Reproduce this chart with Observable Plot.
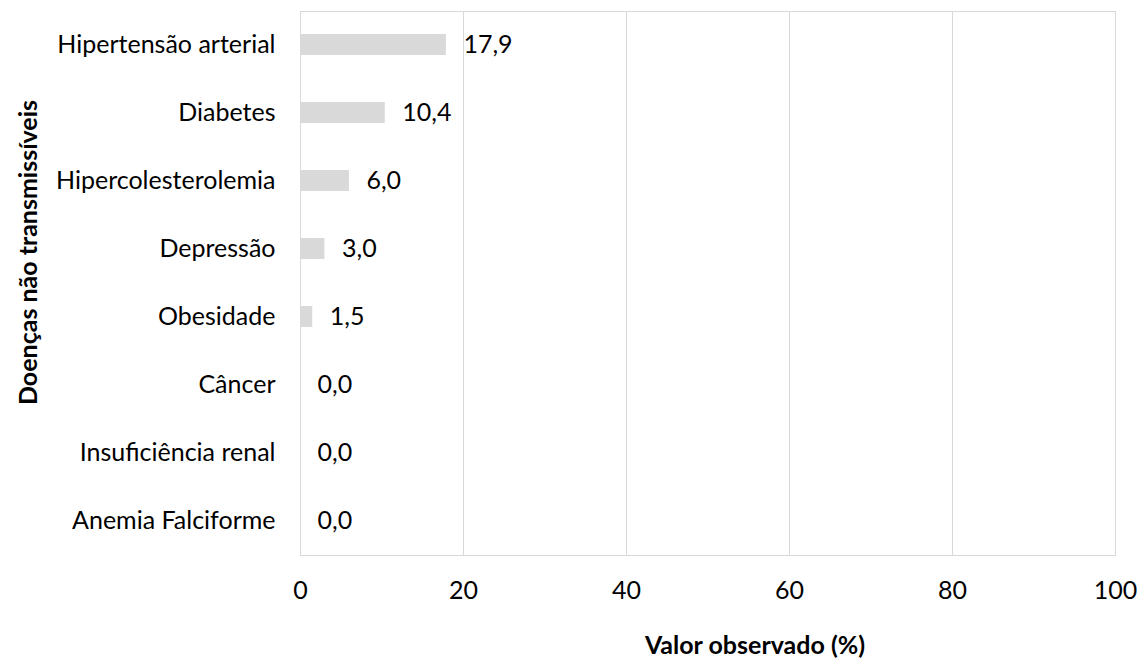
<!DOCTYPE html>
<html><head><meta charset="utf-8">
<script src="https://cdn.jsdelivr.net/npm/d3@7"></script>
<script src="https://cdn.jsdelivr.net/npm/@observablehq/plot@0.6"></script>
<style>body{margin:0;background:#fff;} svg{font-family:Lato, "Open Sans", sans-serif;}</style>
</head><body><div id="chart"></div>
<script>
const categories = ["Hipertensão arterial","Diabetes","Hipercolesterolemia","Depressão","Obesidade","Câncer","Insuficiência renal","Anemia Falciforme"];
const values = [17.9, 10.4, 6.0, 3.0, 1.5, 0.0, 0.0, 0.0];
const xTicks = [0, 20, 40, 60, 80, 100];
const xTitle = "Valor observado (%)";
const yTitle = "Doenças não transmissíveis";
const data = categories.map((c, i) => ({c, v: values[i]}));
const fmt = v => v.toFixed(1).replace(".", ",");

const chart = Plot.plot({
  width: 1138, height: 663,
  marginLeft: 300, marginRight: 23, marginTop: 11, marginBottom: 108,
  style: {fontSize: "25px", fontFamily: "Lato, 'Open Sans', sans-serif", color: "#000"},
  x: {domain: [0, 100], ticks: xTicks},
  y: {domain: categories, paddingInner: 0.69, paddingOuter: 0.345},
  marks: [
    Plot.gridX(xTicks, {stroke: "#d9d9d9", strokeOpacity: 1}),
    Plot.frame({stroke: "#d9d9d9"}),
    Plot.barX(data, {x: "v", y: "c", fill: "#d9d9d9"}),
    Plot.text(data, {x: "v", y: "c", text: d => fmt(d.v), textAnchor: "start", dx: 17, fontSize: 25, fill: "#000"}),
    Plot.axisX(xTicks, {tickSize: 0, tickPadding: 26, tickFormat: d => String(d), label: null, fontSize: 25}),
    Plot.axisY({tickSize: 0, tickPadding: 25, label: null, fontSize: 25}),
    Plot.text([xTitle], {text: d => d, frameAnchor: "bottom", textAnchor: "middle", lineAnchor: "middle", dx: 47, dy: 90, fontSize: 25, fontWeight: "bold", fill: "#000"}),
    Plot.text([yTitle], {text: d => d, frameAnchor: "left", textAnchor: "middle", lineAnchor: "middle", rotate: -90, dx: -272, dy: -31, fontSize: 25, fontWeight: "bold", fill: "#000"})
  ]
});
document.getElementById("chart").appendChild(chart);
</script></body></html>
